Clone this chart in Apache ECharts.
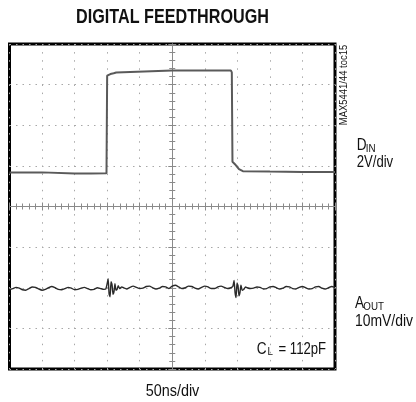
<!DOCTYPE html>
<html>
<head>
<meta charset="utf-8">
<script src="https://cdn.jsdelivr.net/npm/echarts@6/dist/echarts.min.js"></script>
<style>html,body{margin:0;padding:0;background:#fff;}#c{width:416px;height:402px;}</style>
</head>
<body>
<div id="c"></div>
<script>
// Time axis in divisions (50ns/div), levels in divisions
var xTicks = [-5, -4, -3, -2, -1, 0, 1, 2, 3, 4, 5];
var yTicks = [-4, -3, -2, -1, 0, 1, 2, 3, 4];

var dinTime  = [-5, -4, -3, -2.5, -2.02, -2.0, -1.9, -1.8, -1.72, -1.68, 0, 1.8, 1.83, 1.85, 1.95, 2.05, 2.17, 3, 4, 5];
var dinLevel = [0.84, 0.84, 0.81, 0.81, 0.82, 3.22, 3.26, 3.28, 3.30, 3.34, 3.35, 3.35, 3.30, 1.10, 1.02, 0.92, 0.87, 0.86, 0.85, 0.85];

var aoutTime = [-5.0,-4.9,-4.8,-4.7,-4.6,-4.5,-4.4,-4.3,-4.2,-4.1,-4.0,-3.9,-3.8,-3.7,-3.6,-3.5,-3.4,-3.3,-3.2,-3.1,-3.0,-2.9,-2.8,-2.7,-2.6,-2.5,-2.4,-2.3,-2.2,-2.1,-2.04,-2.0,-1.97,-1.94,-1.91,-1.88,-1.85,-1.82,-1.79,-1.76,-1.73,-1.70,-1.66,-1.62,-1.55,-1.5,-1.4,-1.3,-1.2,-1.1,-1.0,-0.9,-0.8,-0.7,-0.6,-0.5,-0.4,-0.3,-0.2,-0.1,0.0,0.1,0.2,0.3,0.4,0.5,0.6,0.7,0.8,0.9,1.0,1.1,1.2,1.3,1.4,1.5,1.6,1.7,1.8,1.86,1.9,1.93,1.96,1.99,2.02,2.05,2.08,2.11,2.15,2.2,2.25,2.3,2.4,2.5,2.6,2.7,2.8,2.9,3.0,3.1,3.2,3.3,3.4,3.5,3.6,3.7,3.8,3.9,4.0,4.1,4.2,4.3,4.4,4.5,4.6,4.7,4.8,4.9,5.0];
var aoutLevel = [-2.05,-2.02,-1.99,-2.01,-2.05,-2.06,-2.02,-1.98,-1.99,-2.03,-2.06,-2.04,-2.00,-1.97,-2.00,-2.04,-2.05,-2.02,-1.99,-2.01,-2.05,-2.04,-2.01,-1.99,-2.02,-2.05,-2.04,-2.00,-2.02,-2.04,-2.03,-1.90,-1.78,-2.15,-2.22,-1.85,-1.92,-2.16,-2.10,-1.90,-2.06,-2.05,-1.95,-2.02,-1.98,-2.00,-2.03,-1.99,-1.96,-1.99,-2.02,-2.01,-1.97,-1.96,-2.00,-2.03,-2.01,-1.97,-1.98,-2.02,-1.96,-1.94,-1.98,-2.02,-2.00,-1.96,-1.97,-2.01,-2.03,-1.99,-1.96,-1.98,-2.02,-2.02,-1.98,-1.96,-1.99,-2.02,-2.00,-1.97,-1.82,-2.12,-2.24,-1.88,-1.95,-2.20,-2.12,-1.94,-2.06,-2.04,-1.98,-2.00,-2.02,-2.01,-1.98,-1.99,-2.03,-2.02,-1.98,-1.97,-2.00,-2.03,-2.01,-1.97,-1.98,-2.02,-2.03,-1.99,-1.97,-2.00,-2.03,-2.02,-1.98,-1.97,-2.01,-2.03,-2.00,-1.97,-1.99];

function pairs(xs, ys) { var o = []; for (var i = 0; i < xs.length; i++) o.push([xs[i], ys[i]]); return o; }

var FONT = "'Liberation Sans', Arial, sans-serif";
var GRIDC = '#a8a8a8';
var CENTC = '#8a8a8a';

function xAx(pos, withSplit) {
  return {
    type: 'value', position: pos, min: xTicks[0], max: xTicks[xTicks.length - 1], interval: 1,
    axisLine: { show: true, onZero: true, onZeroAxisIndex: 0, lineStyle: { color: CENTC, width: 1 } },
    axisTick: { show: true, length: 4, lineStyle: { color: CENTC, width: 1 } },
    minorTick: { show: true, splitNumber: 5, length: 3, lineStyle: { color: CENTC, width: 1 } },
    axisLabel: { show: false },
    splitLine: { show: withSplit, lineStyle: { color: GRIDC, width: 1, type: [1.5, 6.6] } }
  };
}
function yAx(pos, withSplit) {
  return {
    type: 'value', position: pos, min: yTicks[0], max: yTicks[yTicks.length - 1], interval: 1,
    axisLine: { show: true, onZero: true, onZeroAxisIndex: 0, lineStyle: { color: CENTC, width: 1 } },
    axisTick: { show: true, length: 4, lineStyle: { color: CENTC, width: 1 } },
    minorTick: { show: true, splitNumber: 5, length: 3, lineStyle: { color: CENTC, width: 1 } },
    axisLabel: { show: false },
    splitLine: { show: withSplit, lineStyle: { color: GRIDC, width: 1, type: [1.5, 5] } }
  };
}

function txt(s, x, y, size, sx, opts) {
  opts = opts || {};
  return {
    type: 'text', x: x, y: y, scaleX: sx, rotation: opts.rot || 0, z: 100,
    style: { text: s, fill: '#111', font: (opts.bold ? 'bold ' : '') + size + 'px ' + FONT,
             align: opts.align || 'left', verticalAlign: 'middle' }
  };
}

var chart = echarts.init(document.getElementById('c'), null, { renderer: 'canvas' });
chart.setOption({
  animation: false,
  backgroundColor: '#fff',
  grid: { left: 9.5, top: 44, width: 325.5, height: 325, show: true, borderColor: '#000', borderWidth: 3, backgroundColor: 'transparent', containLabel: false },
  xAxis: [xAx('bottom', true), xAx('top', false)],
  yAxis: [yAx('left', true), yAx('right', false)],
  series: [
    { type: 'line', name: 'DIN', data: pairs(dinTime, dinLevel), showSymbol: false, symbol: 'none',
      lineStyle: { color: '#5a5a5a', width: 2 }, z: 5 },
    { type: 'line', name: 'AOUT', data: pairs(aoutTime, aoutLevel), showSymbol: false, symbol: 'none',
      smooth: 0.15, lineStyle: { color: '#2a2a2a', width: 1.4 }, z: 5 }
  ],
  graphic: [
    txt('DIGITAL FEEDTHROUGH', 172.5, 17.5, 21, 0.77, { bold: true, align: 'center' }),
    txt('MAX5441/44 toc15', 344.5, 85, 10.5, 0.9, { align: 'center', rot: Math.PI / 2 }),
    txt('D', 356.7, 146, 16, 0.85),
    txt('IN', 365.7, 148.5, 11.5, 0.85),
    txt('2V/div', 356.7, 162.5, 16, 0.82),
    txt('A', 355, 304, 16, 0.85),
    txt('OUT', 363.3, 306.5, 11.5, 0.85),
    txt('10mV/div', 355, 321.5, 16, 0.87),
    txt('C', 256.7, 349.2, 16, 0.85),
    txt('L', 267.5, 351.5, 11.5, 0.85),
    txt('= 112pF', 278.5, 349.2, 16, 0.82),
    txt('50ns/div', 172.5, 391.5, 16, 0.9, { align: 'center' })
  ]
});
</script>
</body>
</html>
